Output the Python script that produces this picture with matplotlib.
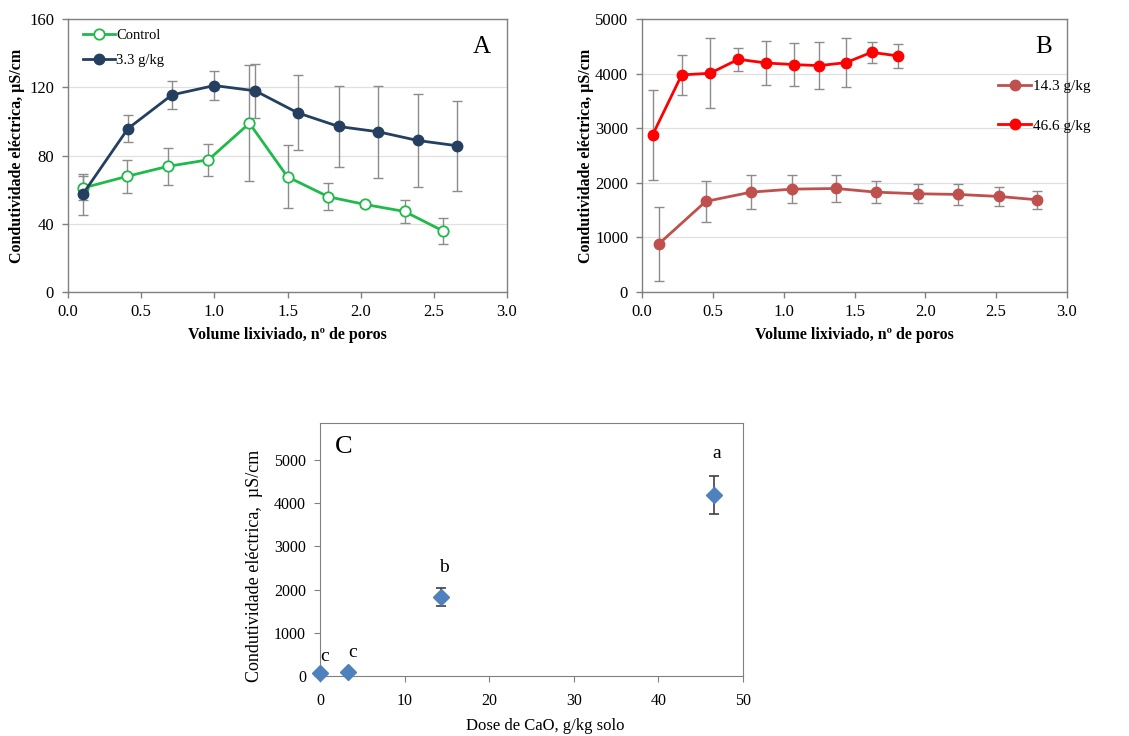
import matplotlib.pyplot as plt
import numpy as np

plt.rcParams['font.family'] = ['Liberation Serif', 'DejaVu Serif']

# Panel A data
ctrl_x = [0.10, 0.40, 0.68, 0.96, 1.24, 1.50, 1.78, 2.03, 2.30, 2.56]
ctrl_y = [60.9, 67.7, 73.6, 77.5, 98.9, 67.5, 55.8, 51.3, 47.2, 35.9]
ctrl_err = [7, 9.5, 11, 9.5, 34, 18.5, 8, 1.5, 7, 7.5]

d33_x = [0.10, 0.41, 0.71, 1.00, 1.28, 1.57, 1.85, 2.12, 2.39, 2.66]
d33_y = [57.2, 95.8, 115.5, 121.0, 117.9, 105.0, 97.0, 93.9, 88.8, 85.7]
d33_err = [12, 8, 8.3, 8.6, 16, 22, 24, 27, 27, 26.5]

# Panel B data
d143_x = [0.12, 0.45, 0.77, 1.06, 1.37, 1.65, 1.95, 2.23, 2.52, 2.79]
d143_y = [884, 1659, 1829, 1884, 1896, 1829, 1799, 1787, 1750, 1689]
d143_err = [677, 380, 305, 255, 253, 205, 177, 186, 168, 165]

d466_x = [0.075, 0.28, 0.48, 0.68, 0.875, 1.07, 1.25, 1.44, 1.62, 1.81]
d466_y = [2878, 3976, 4006, 4262, 4195, 4165, 4146, 4201, 4390, 4323]
d466_err = [823, 363, 637, 210, 400, 397, 430, 448, 192, 216]

# Panel C data
dose = [0, 3.3, 14.3, 46.6]
ce_mean = [62, 100, 1831, 4185]
ce_err = [0, 0, 205, 443]
letters = ['c', 'c', 'b', 'a']
letter_y = [260, 340, 2320, 4940]

W, H = 1129, 736
fig = plt.figure(figsize=(W / 100, H / 100), dpi=100)


def box(l, t, r, b):
    return [l / W, 1 - b / H, (r - l) / W, (b - t) / H]


def style(ax, grid=True):
    for s in ax.spines.values():
        s.set_color('#808080')
        s.set_linewidth(1.0)
    ax.tick_params(direction='out', length=4, width=1, color='#808080',
                   labelsize=12)
    ax.tick_params(axis='x', pad=5)
    ax.tick_params(axis='y', pad=6)
    if grid:
        ax.yaxis.grid(True, color='#e0e0e0', linewidth=0.9)
        ax.set_axisbelow(True)


ebkw = dict(ecolor='#8c8c8c', elinewidth=1.0, capsize=3.5, capthick=1.0)

# ---- A ----
axA = fig.add_axes(box(68, 19, 507, 292))
style(axA)
axA.errorbar(ctrl_x, ctrl_y, yerr=ctrl_err, fmt='none', **ebkw)
axA.errorbar(d33_x, d33_y, yerr=d33_err, fmt='none', **ebkw)
axA.plot(ctrl_x, ctrl_y, '-o', color='#1fba4a', lw=2, ms=7.5,
         mfc='white', mec='#1fba4a', mew=1.3, label='Control')
axA.plot(d33_x, d33_y, '-o', color='#243f60', lw=2, ms=7.5,
         label='3.3 g/kg')
axA.set_xlim(0, 3)
axA.set_ylim(0, 160)
axA.set_xticks(np.arange(0, 3.01, 0.5))
axA.set_xticklabels(['%.1f' % v for v in np.arange(0, 3.01, 0.5)])
axA.set_yticks([0, 40, 80, 120, 160])
axA.set_xlabel('Volume lixiviado, nº de poros', fontsize=11.5, fontweight='bold')
axA.set_ylabel('Condutividade eléctrica, µS/cm', fontsize=11.5, fontweight='bold')
axA.xaxis.set_label_coords(0.5, -0.128)
axA.yaxis.set_label_coords(-0.098, 0.5)
axA.text(0.943, 0.897, 'A', transform=axA.transAxes, fontsize=18, ha='center', va='center')
axA.legend(loc='upper left', bbox_to_anchor=(0.01, 1.0), frameon=False,
           fontsize=10.5, handlelength=2.2, handletextpad=0.1, labelspacing=0.8,
           borderaxespad=0.3)

# ---- B ----
axB = fig.add_axes(box(642, 19, 1067, 292))
style(axB)
axB.errorbar(d143_x, d143_y, yerr=d143_err, fmt='none', **ebkw)
axB.errorbar(d466_x, d466_y, yerr=d466_err, fmt='none', **ebkw)
axB.plot(d143_x, d143_y, '-o', color='#c0504d', lw=2, ms=7.5, label='14.3 g/kg')
axB.plot(d466_x, d466_y, '-o', color='#ff0000', lw=2, ms=7.5, label='46.6 g/kg')
axB.set_xlim(0, 3)
axB.set_ylim(0, 5000)
axB.set_xticks(np.arange(0, 3.01, 0.5))
axB.set_xticklabels(['%.1f' % v for v in np.arange(0, 3.01, 0.5)])
axB.set_yticks(np.arange(0, 5001, 1000))
axB.set_xlabel('Volume lixiviado, nº de poros', fontsize=11.5, fontweight='bold')
axB.set_ylabel('Condutividade eléctrica, µS/cm', fontsize=11.5, fontweight='bold')
axB.xaxis.set_label_coords(0.5, -0.128)
axB.yaxis.set_label_coords(-0.113, 0.5)
axB.text(0.945, 0.897, 'B', transform=axB.transAxes, fontsize=18, ha='center', va='center')
axB.legend(loc='upper left', bbox_to_anchor=(0.805, 0.83), frameon=False,
           fontsize=11, handlelength=2.2, handletextpad=0.1, labelspacing=1.7)

# ---- C ----
axC = fig.add_axes(box(320, 423, 743, 676))
for s in axC.spines.values():
    s.set_color('#808080')
axC.tick_params(direction='out', length=4, color='#808080', labelsize=11.5)
axC.tick_params(axis='x', pad=8)
axC.tick_params(axis='y', pad=6)
axC.errorbar(dose, ce_mean, yerr=ce_err, fmt='D', color='#4f81bd', ms=8.5,
             ecolor='#404040', elinewidth=1.2, capsize=3.5, capthick=1.2,
             clip_on=False, zorder=3)
for x, y, t in zip(dose, letter_y, letters):
    axC.text(x + 0.6 if x < 5 else x + 0.3, y, t, fontsize=14, ha='center', va='bottom')
axC.set_xlim(0, 50)
axC.set_ylim(0, 5850)
axC.set_xticks(np.arange(0, 51, 10))
axC.set_yticks(np.arange(0, 5001, 1000))
axC.set_xlabel('Dose de CaO, g/kg solo', fontsize=12)
axC.set_ylabel('Condutividade eléctrica,  µS/cm', fontsize=13)
axC.xaxis.set_label_coords(0.532, -0.165)
axC.yaxis.set_label_coords(-0.134, 0.435)
axC.text(0.057, 0.905, 'C', transform=axC.transAxes, fontsize=19, ha='center', va='center')

fig.savefig('out.png', dpi=100)
